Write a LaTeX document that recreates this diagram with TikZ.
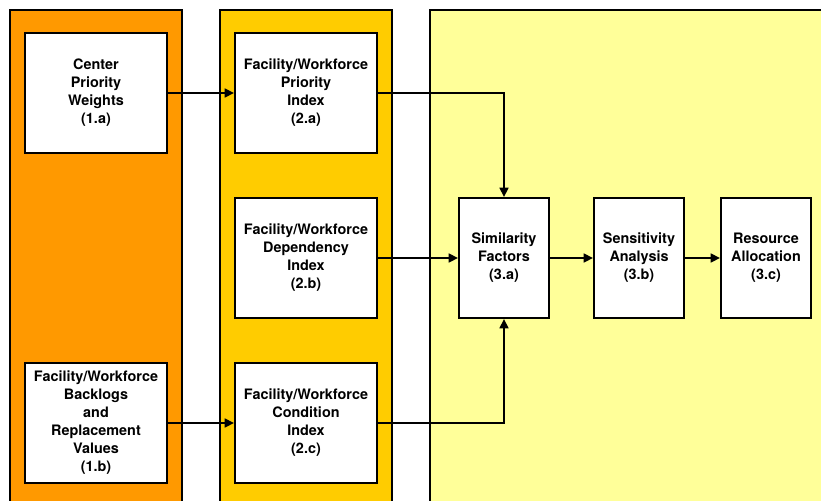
\documentclass[tikz,border=0pt]{standalone}
\usepackage{fontspec}
\setmainfont{TeX Gyre Heros}
\usetikzlibrary{shapes,arrows.meta,positioning}
\definecolor{laneone}{HTML}{FF9900}
\definecolor{lanetwo}{HTML}{FFCC00}
\definecolor{lanethree}{HTML}{FFFF99}
\tikzstyle{lane}=[draw,line width=1.4pt]
\tikzstyle{box}=[rectangle,draw,line width=1.4pt,fill=white,align=center,minimum width=106.5pt,minimum height=90pt,inner sep=2pt,font=\bfseries\fontsize{10.8}{13.5}\selectfont]
\tikzstyle{sbox}=[box,minimum width=67.5pt]
\tikzstyle{arr}=[-{Triangle[length=7pt,width=6.5pt]},line width=2pt]

\begin{document}
\begin{tikzpicture}[x=0.75pt,y=-0.75pt]
\clip (0,0) rectangle (821,500);
% lanes
\draw[lane,fill=laneone] (10,10) rectangle (182,520);
\draw[lane,fill=lanetwo] (220,10) rectangle (392,520);
\draw[lane,fill=lanethree] (430,10) rectangle (840,520);
% inputs
\node[box] (cpw) at (96,93) {Center\\Priority\\Weights\\(1.a)};
\node[box] (fbr) at (96,423) {Facility/Workforce\\Backlogs\\and\\Replacement\\Values\\(1.b)};
\node[box] (fpi) at (306,93) {Facility/Workforce\\Priority\\Index\\(2.a)};
\node[box] (fdi) at (306,258) {Facility/Workforce\\Dependency\\Index\\(2.b)};
\node[box] (fci) at (306,423) {Facility/Workforce\\Condition\\Index\\(2.c)};
% analysis
\node[sbox] (sim) at (504,258) {Similarity\\Factors\\(3.a)};
\node[sbox] (sen) at (639,258) {Sensitivity\\Analysis\\(3.b)};
\node[sbox] (res) at (766,258) {Resource\\Allocation\\(3.c)};
\draw[arr] (cpw) -- (fpi);
\draw[arr] (fbr) -- (fci);
\draw[arr] (fpi.east) -| (sim.north);
\draw[arr] (fdi) -- (sim);
\draw[arr] (fci.east) -| (sim.south);
\draw[arr] (sim) -- (sen);
\draw[arr] (sen) -- (res);
\end{tikzpicture}
\end{document}
